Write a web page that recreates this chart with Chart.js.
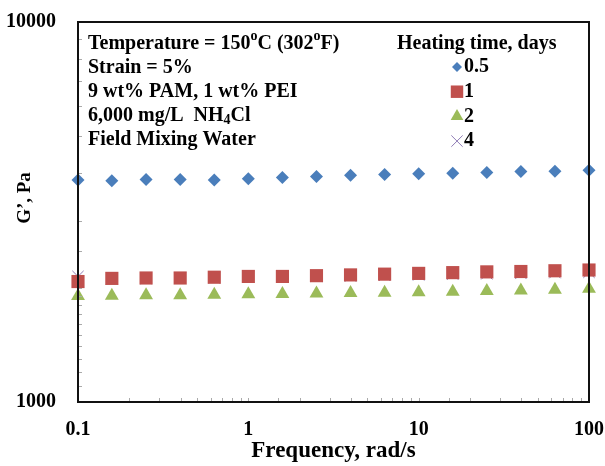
<!DOCTYPE html>
<html>
<head>
<meta charset="utf-8">
<script src="https://cdn.jsdelivr.net/npm/chart.js@4"></script>
<style>
  html, body { margin: 0; padding: 0; background: #fff; }
  #wrap { width: 605px; height: 466px; }
</style>
</head>
<body>
<div id="wrap"><canvas id="chart-gprime"></canvas></div>
<script>
// frequency, rad/s
var freq = [0.1, 0.158, 0.251, 0.398, 0.631, 1, 1.585, 2.512, 3.981, 6.31, 10, 15.85, 25.12, 39.81, 63.1, 100];
// G', Pa for each heating time
var g05 = [3840, 3820, 3850, 3850, 3840, 3870, 3900, 3920, 3950, 3970, 3990, 4000, 4020, 4040, 4050, 4070];
var g1 = [2075, 2115, 2120, 2120, 2130, 2140, 2140, 2150, 2160, 2170, 2180, 2190, 2200, 2205, 2215, 2225];
var g2 = [1900, 1905, 1910, 1910, 1915, 1920, 1925, 1930, 1935, 1940, 1945, 1950, 1960, 1965, 1975, 1985];
var g4 = [2140, 2110, 2115, 2115, 2120, 2130, 2135, 2140, 2145, 2155, 2160, 2170, 2175, 2180, 2190, 2195];
var seriesNames = ["0.5", "1", "2", "4"];
var xTickLabels = ["0.1", "1", "10", "100"];
var yTickLabels = ["1000", "10000"];
var xTitle = "Frequency, rad/s";
var yTitle = "G\u2019, Pa";
var legendTitle = "Heating time, days";
var notes = [
  [["Temperature = 150", ""], ["o", "sup"], ["C (302", ""], ["o", "sup"], ["F)", ""]],
  [["Strain = 5%", ""]],
  [["9 wt% PAM, 1 wt% PEI", ""]],
  [["6,000 mg/L  NH", ""], ["4", "sub"], ["Cl", ""]],
  [["Field Mixing Water", ""]]
];

var FONT = "'Liberation Serif', 'Times New Roman', serif";

function pts(ys) {
  return freq.map(function (f, i) { return { x: f, y: ys[i] }; });
}

function decadeLabel(v, labels) {
  var l = Math.log10(v);
  if (Math.abs(l - Math.round(l)) > 1e-6) return "";
  var s = String(Math.round(Math.pow(10, l) * 1000) / 1000);
  return labels.indexOf(s) >= 0 ? s : "";
}

function drawRich(ctx, parts, x, y, size) {
  parts.forEach(function (p) {
    var fs = p[1] ? Math.round(size * 0.68) : size;
    var dy = p[1] === "sup" ? -size * 0.36 : (p[1] === "sub" ? size * 0.22 : 0);
    ctx.font = "bold " + fs + "px " + FONT;
    ctx.fillText(p[0], x, y + dy);
    x += ctx.measureText(p[0]).width;
  });
}

var extras = {
  id: "extras",
  afterDraw: function (chart) {
    var ctx = chart.ctx, a = chart.chartArea;
    var xs = chart.scales.x, ys = chart.scales.y;
    ctx.save();
    // inner tick marks
    ctx.strokeStyle = "#aaa";
    ctx.lineWidth = 1;
    xs.ticks.forEach(function (t) {
      var px = Math.round(xs.getPixelForValue(t.value)) + 0.5;
      ctx.beginPath(); ctx.moveTo(px, a.bottom); ctx.lineTo(px, a.bottom - 4); ctx.stroke();
    });
    ys.ticks.forEach(function (t) {
      var py = Math.round(ys.getPixelForValue(t.value)) + 0.5;
      ctx.beginPath(); ctx.moveTo(a.left, py); ctx.lineTo(a.left + 4, py); ctx.stroke();
    });
    // frame
    ctx.strokeStyle = "#111";
    ctx.lineWidth = 2;
    ctx.strokeRect(a.left, a.top, a.right - a.left, a.bottom - a.top);
    // y title
    ctx.fillStyle = "#000";
    ctx.textBaseline = "middle";
    ctx.textAlign = "center";
    ctx.save();
    ctx.translate(25, 198);
    ctx.rotate(-Math.PI / 2);
    ctx.font = "bold 19px " + FONT;
    ctx.fillText(yTitle, 0, 0);
    ctx.restore();
    // notes
    ctx.textAlign = "left";
    notes.forEach(function (line, i) {
      drawRich(ctx, line, 88, 44 + i * 24, 20);
    });
    // legend
    ctx.font = "bold 20px " + FONT;
    ctx.fillText(legendTitle, 397, 44);
    chart.data.datasets.forEach(function (ds, i) {
      var y = 67 + i * 24.7;
      ctx.fillStyle = ds.backgroundColor;
      ctx.strokeStyle = ds.borderColor;
      ctx.lineWidth = ds.borderWidth;
      Chart.helpers.drawPoint(ctx, {
        pointStyle: ds.pointStyle,
        radius: ds.legendRadius,
        rotation: 0,
        borderWidth: ds.borderWidth
      }, 457, y);
      ctx.fillStyle = "#000";
      ctx.font = "bold 20px " + FONT;
      ctx.fillText(ds.label, 464, y);
    });
    ctx.restore();
  }
};

var ctx = document.getElementById("chart-gprime").getContext("2d");
var myChart = new Chart(ctx, {
  type: "scatter",
  data: {
    datasets: [
      {
        label: seriesNames[0],
        data: pts(g05),
        pointStyle: "rectRot",
        pointRadius: 6.5,
        legendRadius: 5,
        backgroundColor: "#4A7EBB",
        borderColor: "#4A7EBB",
        borderWidth: 0,
        clip: false
      },
      {
        label: seriesNames[1],
        data: pts(g1),
        pointStyle: "rect",
        pointRadius: 9.3,
        legendRadius: 8.8,
        backgroundColor: "#C0504D",
        borderColor: "#C0504D",
        borderWidth: 0,
        clip: false
      },
      {
        label: seriesNames[2],
        data: pts(g2),
        pointStyle: "triangle",
        pointRadius: 8,
        legendRadius: 7.3,
        backgroundColor: "#9BBB59",
        borderColor: "#9BBB59",
        borderWidth: 0,
        clip: false
      },
      {
        label: seriesNames[3],
        data: pts(g4),
        pointStyle: "crossRot",
        pointRadius: 8,
        legendRadius: 8,
        backgroundColor: "#8064A2",
        borderColor: "#8E7BB5",
        borderWidth: 1,
        clip: false
      }
    ]
  },
  options: {
    responsive: true,
    maintainAspectRatio: false,
    animation: false,
    layout: {
      padding: { top: 22, right: 16, left: 0, bottom: 0 }
    },
    plugins: {
      legend: { display: false },
      tooltip: { enabled: false }
    },
    scales: {
      x: {
        type: "logarithmic",
        min: 0.1,
        max: 100,
        grid: { display: false },
        border: { display: true, color: "#111", width: 2 },
        ticks: {
          color: "#000",
          font: { family: FONT, size: 20, weight: "bold" },
          padding: 8,
          autoSkip: false,
          maxRotation: 0,
          callback: function (v) { return decadeLabel(v, xTickLabels); }
        },
        title: {
          display: true,
          text: xTitle,
          color: "#000",
          font: { family: FONT, size: 23, weight: "bold" },
          padding: { top: 0, bottom: 1 }
        },
        afterFit: function (s) {
          s.height = 64;
          s.paddingLeft = 0;
          s.paddingRight = 0;
        }
      },
      y: {
        type: "logarithmic",
        min: 1000,
        max: 10000,
        grid: { display: false },
        border: { display: true, color: "#111", width: 2 },
        ticks: {
          color: "#000",
          font: { family: FONT, size: 20, weight: "bold" },
          padding: 14,
          autoSkip: false,
          callback: function (v) { return decadeLabel(v, yTickLabels); }
        },
        afterFit: function (s) {
          s.width = 78;
          s.paddingTop = 0;
          s.paddingBottom = 0;
        }
      }
    }
  },
  plugins: [extras]
});
</script>
</body>
</html>
